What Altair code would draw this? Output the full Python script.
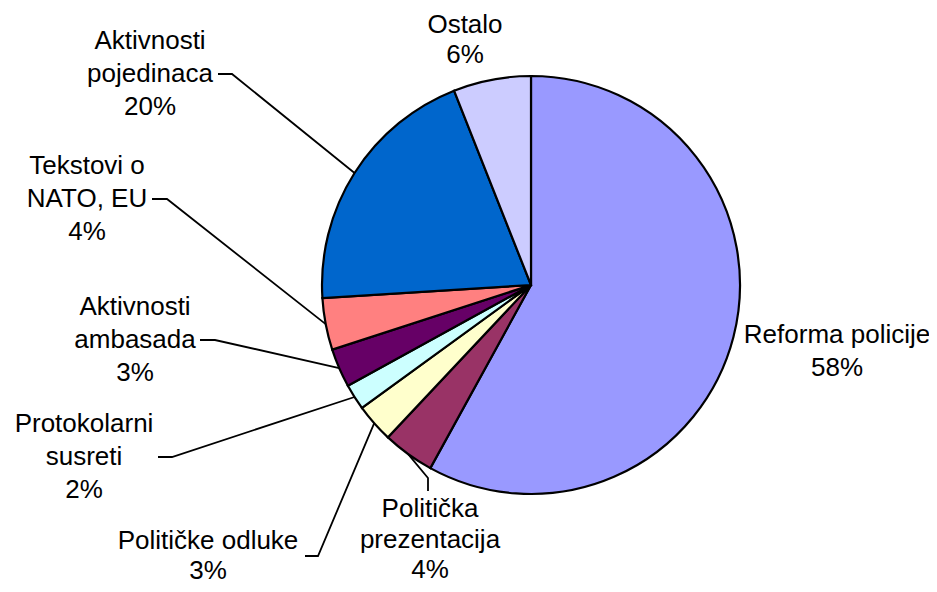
import math
import altair as alt
import pandas as pd

# ---- data ----
categories = [
    "Reforma policije",
    "Politička prezentacija",
    "Političke odluke",
    "Protokolarni susreti",
    "Aktivnosti ambasada",
    "Tekstovi o NATO, EU",
    "Aktivnosti pojedinaca",
    "Ostalo",
]
values = [58, 4, 3, 2, 3, 4, 20, 6]
label_texts = [
    ["Reforma policije"],
    ["Politička", "prezentacija"],
    ["Političke odluke"],
    ["Protokolarni", "susreti"],
    ["Aktivnosti", "ambasada"],
    ["Tekstovi o", "NATO, EU"],
    ["Aktivnosti", "pojedinaca"],
    ["Ostalo"],
]
colors = ["#9999FF", "#993366", "#FFFFCC", "#CCFFFF", "#660066",
          "#FF8080", "#0066CC", "#CCCCFF"]

# ---- layout (chart pixel space) ----
W, H = 921, 576
OFF = 8                      # page margin
CX, CY, R = 531 - OFF, 285 - OFF, 209
FONT_SIZE = 26
# centre x, first-line y and line spacing of each label block
label_anchor = [(837, 335, 33), (430, 509, 30.5), (208, 541, 30), (84, 424, 33),
                (135, 307, 33), (87, 166, 33), (150, 41, 33), (465, 25, 30)]
# leader lines: elbow point and end point near the text (None = no leader)
leader_pts = [None,
              [(428, 478), (428, 491)],
              [(318, 556), (305, 556)],
              [(172, 457), (158, 457)],
              [(215, 340), (200, 340)],
              [(167, 199), (152, 199)],
              [(232, 74), (218, 74)],
              None]

total = sum(values)
pie_df = pd.DataFrame({"category": categories, "value": values,
                       "idx": list(range(len(values)))})

text_rows = []
line_rows = []
cum = 0.0
for i, (cat, v) in enumerate(zip(categories, values)):
    mid = (cum + v / 2) / total * 2 * math.pi
    cum += v
    lines = label_texts[i] + [f"{round(v / total * 100)}%"]
    ax, ay, lh = label_anchor[i]
    for j, t in enumerate(lines):
        text_rows.append({"category": cat, "text": t,
                          "px": ax - OFF, "py": ay - OFF + j * lh})
    if leader_pts[i] is not None:
        ex = CX + R * math.sin(mid)
        ey = CY - R * math.cos(mid)
        pts = [(ex, ey)] + [(x - OFF, y - OFF) for x, y in leader_pts[i]]
        for k, (x, y) in enumerate(pts):
            line_rows.append({"category": cat, "step": k, "px": x, "py": y})

text_df = pd.DataFrame(text_rows)
line_df = pd.DataFrame(line_rows)

xs = alt.Scale(domain=[0, W], nice=False, zero=False)
ys = alt.Scale(domain=[0, H], reverse=True, nice=False, zero=False)

pie = alt.Chart(pie_df).mark_arc(radius=R, stroke="black", strokeWidth=2.2).encode(
    theta=alt.Theta("value:Q", stack=True),
    order=alt.Order("idx:Q"),
    color=alt.Color("category:N", scale=alt.Scale(domain=categories, range=colors),
                    legend=None),
    x=alt.value(CX),
    y=alt.value(CY),
)

leaders = alt.Chart(line_df).mark_line(color="black", strokeWidth=1.8).encode(
    x=alt.X("px:Q", scale=xs, axis=None),
    y=alt.Y("py:Q", scale=ys, axis=None),
    detail="category:N",
    order="step:Q",
)

labels = alt.Chart(text_df).mark_text(
    font="Liberation Sans", fontSize=FONT_SIZE, color="black",
    align="center", baseline="middle",
).encode(
    x=alt.X("px:Q", scale=xs, axis=None),
    y=alt.Y("py:Q", scale=ys, axis=None),
    text="text:N",
)

chart = alt.layer(pie, leaders, labels).properties(
    width=W, height=H, padding=0, autosize=alt.AutoSizeParams(type="none"),
    background="white",
).configure_view(stroke=None)

chart.save("out.html", embed_options={"renderer": "svg", "actions": False})
